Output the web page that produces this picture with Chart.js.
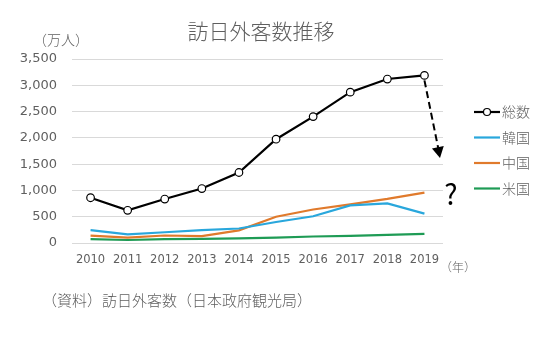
<!DOCTYPE html>
<html>
<head>
<meta charset="utf-8">
<script src="https://cdn.jsdelivr.net/npm/chart.js@4/dist/chart.umd.min.js"></script>
<style>
    html, body { margin: 0; padding: 0; background: #fff; }
    #wrap { width: 542px; height: 346px; position: relative; }
</style>
</head>
<body>
<div id="wrap"><canvas id="chart"></canvas></div>
<script>
// Data (万人)
const years = ['2010', '2011', '2012', '2013', '2014', '2015', '2016', '2017', '2018', '2019'];
const total = [861, 622, 836, 1036, 1341, 1974, 2404, 2869, 3119, 3188];
const korea = [244, 166, 204, 246, 276, 400, 509, 714, 754, 558];
const china = [141, 104, 143, 131, 241, 499, 637, 736, 838, 959];
const usa = [73, 57, 72, 80, 89, 103, 124, 137, 153, 172];
const yTicks = [0, 500, 1000, 1500, 2000, 2500, 3000, 3500];

const gray = '#5f5f5f';
const jpFont = '"Noto Sans CJK JP", "Noto Sans", sans-serif';
const numFont = '"DejaVu Sans", sans-serif';

// Extra text, legend, arrow
const decorations = {
    id: 'decorations',
    afterDraw(chart) {
        const ctx = chart.ctx;
        const x = chart.scales.x;
        const y = chart.scales.y;
        ctx.save();

        ctx.fillStyle = gray;
        ctx.textBaseline = 'middle';
        ctx.textAlign = 'center';
        ctx.font = '300 21px ' + jpFont;
        ctx.fillText('訪日外客数推移', 261, 31);

        ctx.textAlign = 'left';
        ctx.font = '300 14px ' + jpFont;
        ctx.fillText('（万人）', 33, 40);
        ctx.font = '300 12px ' + jpFont;
        ctx.fillText('（年）', 440, 267);
        ctx.font = '300 15px ' + jpFont;
        ctx.fillText('（資料）訪日外客数（日本政府観光局）', 42, 300);

        // legend
        chart.data.datasets.forEach((ds, i) => {
            const ly = 112 + i * 25.5;
            ctx.strokeStyle = ds.borderColor;
            ctx.lineWidth = ds.borderWidth;
            ctx.beginPath();
            ctx.moveTo(474, ly);
            ctx.lineTo(500, ly);
            ctx.stroke();
            if (ds.pointRadius > 0) {
                ctx.fillStyle = '#fff';
                ctx.lineWidth = 1.2;
                ctx.beginPath();
                ctx.arc(487, ly, 3.5, 0, Math.PI * 2);
                ctx.fill();
                ctx.stroke();
            }
            ctx.fillStyle = gray;
            ctx.font = '300 14px ' + jpFont;
            ctx.fillText(ds.label, 502, ly);
        });

        // dashed arrow from the last total point
        const x0 = x.getPixelForValue(9);
        const y0 = y.getPixelForValue(total[9]) + 5;
        const x1 = 440, y1 = 158;
        ctx.strokeStyle = '#000';
        ctx.lineWidth = 2;
        ctx.setLineDash([7, 4]);
        ctx.beginPath();
        ctx.moveTo(x0, y0);
        ctx.lineTo(x1 - 1.6, y1 - 9);
        ctx.stroke();
        ctx.setLineDash([]);
        const ang = Math.atan2(y1 - y0, x1 - x0);
        ctx.fillStyle = '#000';
        ctx.beginPath();
        ctx.moveTo(x1, y1);
        ctx.lineTo(x1 - 11 * Math.cos(ang) + 6 * Math.sin(ang), y1 - 11 * Math.sin(ang) - 6 * Math.cos(ang));
        ctx.lineTo(x1 - 11 * Math.cos(ang) - 6 * Math.sin(ang), y1 - 11 * Math.sin(ang) + 6 * Math.cos(ang));
        ctx.closePath();
        ctx.fill();

        ctx.textAlign = 'center';
        ctx.font = '28px ' + jpFont;
        ctx.fillText('?', 451, 194);
        ctx.restore();
    }
};

new Chart(document.getElementById('chart'), {
    type: 'line',
    data: {
        labels: years,
        datasets: [
            { label: '総数', data: total, borderColor: '#000000', borderWidth: 2.2,
              pointRadius: 3.8, pointBackgroundColor: '#fff', pointBorderColor: '#000', pointBorderWidth: 1.2 },
            { label: '韓国', data: korea, borderColor: '#29a7dc', borderWidth: 2.2, pointRadius: 0 },
            { label: '中国', data: china, borderColor: '#e07a2c', borderWidth: 2.2, pointRadius: 0 },
            { label: '米国', data: usa, borderColor: '#1e9b55', borderWidth: 2.2, pointRadius: 0 }
        ]
    },
    options: {
        responsive: true,
        maintainAspectRatio: false,
        animation: false,
        layout: { padding: { top: 59, right: 99, left: 0, bottom: 0 } },
        plugins: {
            legend: { display: false },
            tooltip: { enabled: false }
        },
        scales: {
            x: {
                offset: true,
                grid: { display: false, drawTicks: false },
                border: { display: false },
                ticks: { color: gray, font: { family: numFont, size: 11.5 }, padding: 10, maxRotation: 0 },
                afterFit: s => { s.height = 103; }
            },
            y: {
                min: 0,
                max: 3500,
                afterBuildTicks: s => { s.ticks = yTicks.map(v => ({ value: v })); },
                grid: { color: '#d9d9d9', drawTicks: false },
                border: { display: false },
                ticks: {
                    color: gray,
                    font: { family: numFont, size: 13 },
                    padding: 15,
                    callback: v => v.toLocaleString('en-US')
                },
                afterFit: s => { s.width = 72; }
            }
        }
    },
    plugins: [decorations]
});
</script>
</body>
</html>
